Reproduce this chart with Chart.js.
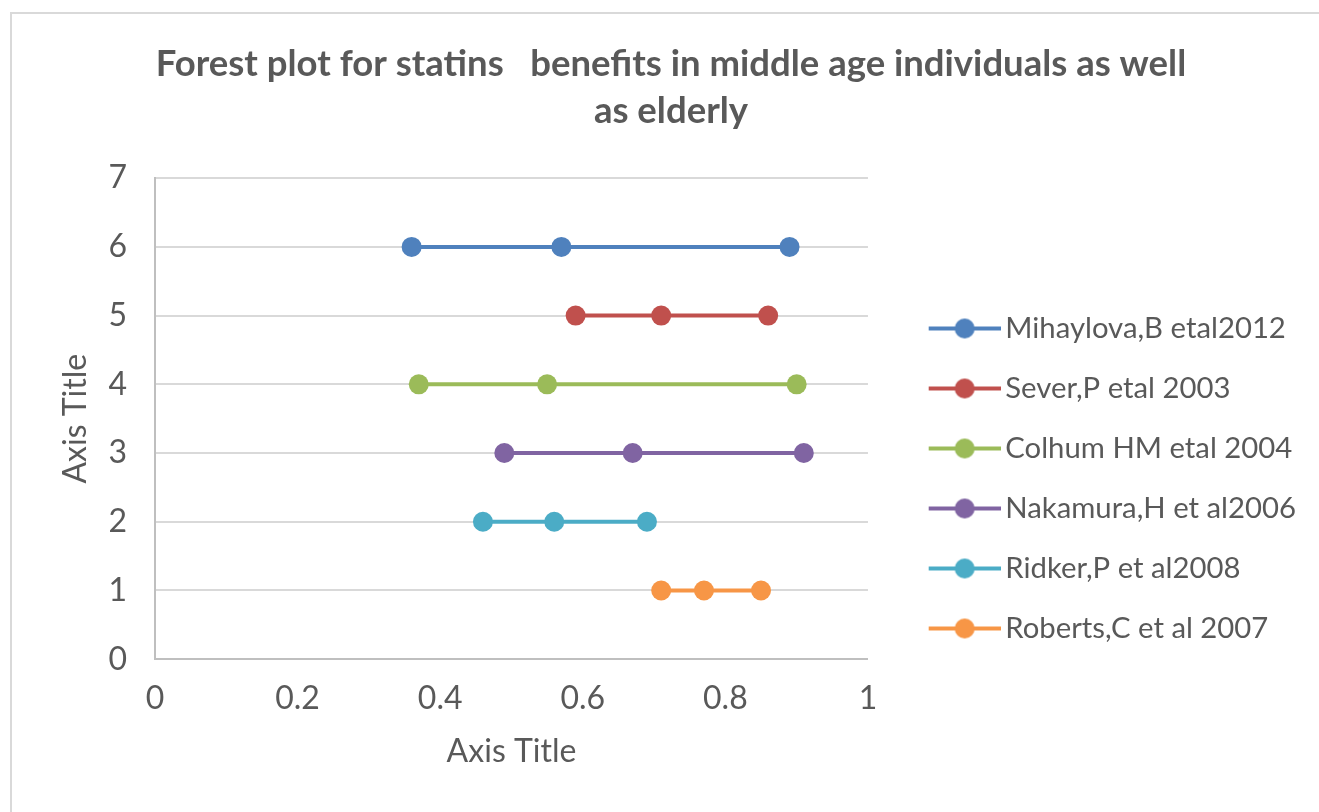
<!DOCTYPE html>
<html>
<head>
<meta charset="utf-8">
<script src="https://cdn.jsdelivr.net/npm/chart.js@4.4.1/dist/chart.umd.min.js"></script>
<style>
html, body { margin: 0; padding: 0; background: #fff; }
#frame { position: absolute; left: 10px; top: 12px; width: 1320px; height: 810px; border: 2px solid #d9d9d9; }
#wrap { position: absolute; left: 0; top: 0; width: 1319px; height: 812px; }
</style>
</head>
<body>
<div id="frame"></div>
<div id="wrap"><canvas id="chart"></canvas></div>
<script>
// ==================== DATA ====================
const studies = ['Mihaylova,B etal2012', 'Sever,P etal 2003', 'Colhum HM etal 2004', 'Nakamura,H et al2006', 'Ridker,P et al2008', 'Roberts,C et al 2007'];
const rowY = [6, 5, 4, 3, 2, 1];
const lowerCI = [0.36, 0.59, 0.37, 0.49, 0.46, 0.71];
const estimate = [0.57, 0.71, 0.55, 0.67, 0.56, 0.77];
const upperCI = [0.89, 0.86, 0.90, 0.91, 0.69, 0.85];
const xTickLabels = ['0', '0.2', '0.4', '0.6', '0.8', '1'];
const yTickLabels = ['0', '1', '2', '3', '4', '5', '6', '7'];
const colors = ['#4f81bd', '#c0504d', '#9bbb59', '#8064a2', '#4bacc6', '#f79646'];

// ==================== STYLE ====================
const TEXT = '#595959';
const FONT = 'Lato';
const LEGEND_GAP = 30;   // blank space left of the legend marker

// legend marker: short line with a dot in the middle (transparent gap on the left)
function legendMarker(color) {
    const c = document.createElement('canvas');
    c.width = LEGEND_GAP + 82; c.height = 24;
    const g = c.getContext('2d');
    const x0 = LEGEND_GAP + 10;
    g.strokeStyle = color;
    g.lineWidth = 4;
    g.beginPath(); g.moveTo(x0, 12); g.lineTo(x0 + 72, 12); g.stroke();
    g.fillStyle = color;
    g.beginPath(); g.arc(x0 + 36, 12, 10, 0, Math.PI * 2); g.fill();
    return c;
}

const datasets = studies.map((name, i) => ({
    label: name,
    data: [
        { x: lowerCI[i], y: rowY[i] },
        { x: estimate[i], y: rowY[i] },
        { x: upperCI[i], y: rowY[i] }
    ],
    showLine: true,
    borderColor: colors[i],
    backgroundColor: colors[i],
    borderWidth: 4,
    pointRadius: 10,
    pointBorderWidth: 0,
    marker: legendMarker(colors[i])
}));

new Chart(document.getElementById('chart'), {
    type: 'scatter',
    data: { datasets },
    options: {
        responsive: true,
        maintainAspectRatio: false,
        animation: false,
        layout: { padding: { left: 36, right: 13, top: 0, bottom: 41 } },
        plugins: {
            tooltip: { enabled: false },
            title: {
                display: true,
                text: ['Forest plot for statins   benefits in middle age individuals as well', 'as elderly'],
                color: TEXT,
                font: { family: FONT, size: 36.5, weight: 'bold', lineHeight: 1.29 },
                padding: { top: 41, bottom: 43 }
            },
            legend: {
                position: 'right',
                align: 'center',
                maxWidth: 600,
                // empty legend title used only as a spacer above the items
                title: { display: true, text: ' ', font: { size: 10 }, padding: { top: 174, bottom: 0 } },
                labels: {
                    color: TEXT,
                    font: { family: FONT, size: 29.3 },
                    padding: 30.7,
                    usePointStyle: true,
                    pointStyleWidth: LEGEND_GAP + 62,
                    generateLabels: chart => chart.data.datasets.map((ds, i) => ({
                        text: ds.label,
                        pointStyle: ds.marker,
                        fillStyle: ds.backgroundColor,
                        strokeStyle: ds.borderColor,
                        fontColor: TEXT,
                        lineWidth: 0,
                        datasetIndex: i
                    }))
                }
            }
        },
        scales: {
            x: {
                type: 'linear',
                min: 0, max: 1,
                grid: { display: false, drawTicks: false },
                border: { display: true, color: '#bfbfbf', width: 2 },
                ticks: {
                    stepSize: 0.2,
                    color: TEXT,
                    font: { family: FONT, size: 32 },
                    padding: 20,
                    callback: (v, i) => xTickLabels[i]
                },
                title: {
                    display: true, text: 'Axis Title', color: TEXT,
                    font: { family: FONT, size: 32 },
                    padding: { top: -5, bottom: 0 }
                }
            },
            y: {
                type: 'linear',
                min: 0, max: 7,
                grid: { color: '#d9d9d9', lineWidth: 2, drawTicks: false },
                border: { display: true, color: '#bfbfbf', width: 2 },
                ticks: {
                    stepSize: 1,
                    color: TEXT,
                    font: { family: FONT, size: 32 },
                    padding: 28,
                    callback: (v, i) => yTickLabels[i]
                },
                title: {
                    display: true, text: 'Axis Title', color: TEXT,
                    font: { family: FONT, size: 32 },
                    padding: { top: 20, bottom: -14 }
                }
            }
        }
    }
});
</script>
</body>
</html>
